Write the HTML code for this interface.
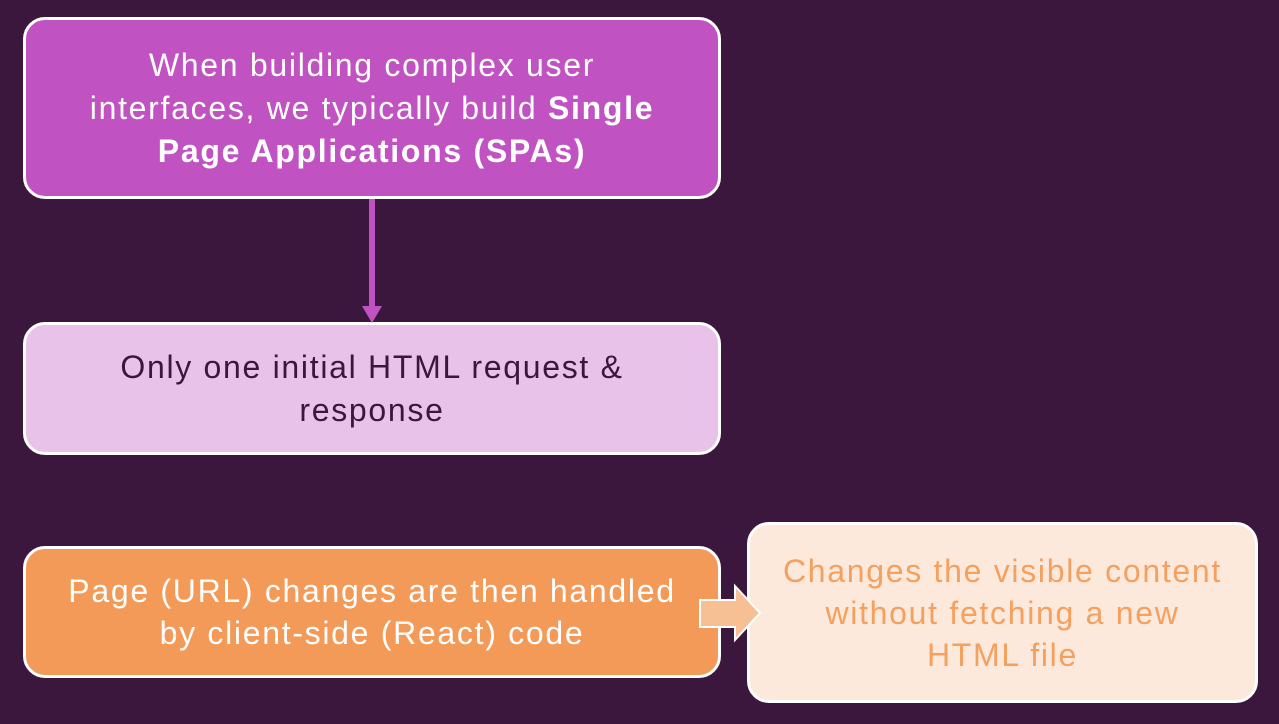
<!DOCTYPE html>
<html><head><style>
body{margin:0;width:1279px;height:724px;background:#3c173d;position:relative;overflow:hidden;font-family:"Liberation Sans",sans-serif}
.b{position:absolute;box-sizing:border-box;border:3px solid #fff;border-radius:22px;display:flex;align-items:center;justify-content:center;text-align:center;font-size:32px;line-height:43px;letter-spacing:1.7px}
.b>div{white-space:nowrap}
</style></head><body>
<div class="b" style="left:23px;top:17px;width:698px;height:182px;background:#c053c1;color:#fff"><div>When building complex user<br>interfaces, we typically build <b>Single</b><br><b>Page Applications (SPAs)</b></div></div>
<div class="b" style="left:23px;top:322px;width:698px;height:133px;background:#e8c2e8;color:#3c173d"><div>Only one initial HTML request &amp;<br>response</div></div>
<div class="b" style="left:23px;top:546px;width:698px;height:132px;background:#f49a58;color:#fff;line-height:42px"><div>Page (URL) changes are then handled<br>by client-side (React) code</div></div>
<div class="b" style="left:747px;top:522px;width:511px;height:181px;background:#fde9dc;color:#f4a05f;line-height:42px"><div>Changes the visible content<br>without fetching a new<br>HTML file</div></div>
<svg width="1279" height="724" style="position:absolute;left:0;top:0">
<rect x="369" y="199" width="6" height="112" fill="#c053c1"/>
<polygon points="362,306 382,306 372,323" fill="#c053c1"/>
<polygon points="700,600 735,600 735,586 760,613 735,640 735,627 700,627" fill="#f7bf94" stroke="#fff" stroke-width="2"/>
</svg>
</body></html>
